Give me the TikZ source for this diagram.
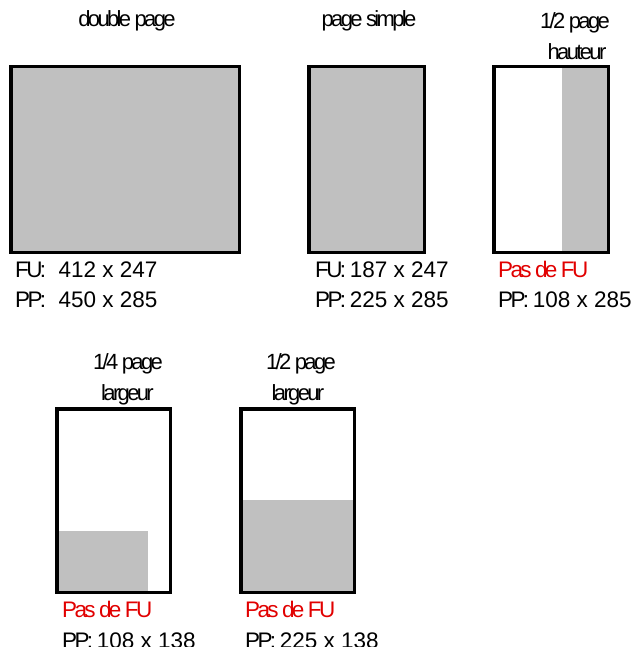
\documentclass[tikz,border=0pt]{standalone}
\usepackage{fontspec}
\setmainfont{Liberation Sans}
\newfontfamily\cmpfont[LetterSpace=-12]{Liberation Sans}
\definecolor{pagegray}{RGB}{192,192,192}
\definecolor{fured}{RGB}{225,0,0}
\newcommand{\cmp}[1]{{\cmpfont #1}}
\begin{document}
\begin{tikzpicture}[x=1pt,y=-1pt,
  title/.style={anchor=base,inner sep=0pt,font=\cmpfont\fontsize{22}{22}\selectfont},
  info/.style={anchor=base west,inner sep=0pt,font=\fontsize{22.5}{22.5}\selectfont},
  redinfo/.style={info,text=fured,font=\cmpfont\fontsize{22.5}{22.5}\selectfont},
  frame/.style={draw=black,line width=3.5pt},
  shade/.style={fill=pagegray}]
\useasboundingbox (0,0) rectangle (641,647);
% double page
\fill[shade] (10.75,66.75) rectangle (239.25,252.25);
\draw[frame] (10.75,66.75) rectangle (239.25,252.25);
\node[title] (t1) at (127,27) {double page};
\node[info] (fu1) at (15,277) {\cmp{FU:}\ \ 412 x 247};
\node[info] (pp1) at (15,307) {\cmp{PP:}\ \ 450 x 285};
% page simple
\fill[shade] (308.75,66.75) rectangle (424.25,252.25);
\draw[frame] (308.75,66.75) rectangle (424.25,252.25);
\node[title] (t2) at (369,27) {page simple};
\node[info] (fu2) at (315,277) {\cmp{FU:}\,187 x 247};
\node[info] (pp2) at (315,307) {\cmp{PP:}\,225 x 285};
% 1/2 page hauteur
\fill[shade] (562,66.75) rectangle (608.25,252.25);
\draw[frame] (493.75,66.75) rectangle (608.25,252.25);
\node[title] (t3a) at (575,29) {1/2 page};
\node[title] (t3b) at (577,60) {hauteur};
\node[redinfo] (fu3) at (498,277) {Pas de FU};
\node[info] (pp3) at (498,307) {\cmp{PP:}\,108 x 285};
% 1/4 page largeur
\fill[shade] (56.75,531) rectangle (148,592.25);
\draw[frame] (56.75,408.75) rectangle (170.25,592.25);
\node[title] (t4a) at (128,369) {1/4 page};
\node[title] (t4b) at (127.5,400) {largeur};
\node[redinfo] (fu4) at (62,617) {Pas de FU};
\node[info] (pp4) at (62,648) {\cmp{PP:}\,108 x 138};
% 1/2 page largeur
\fill[shade] (240.75,500) rectangle (354.25,592.25);
\draw[frame] (240.75,408.75) rectangle (354.25,592.25);
\node[title] (t5a) at (301,369) {1/2 page};
\node[title] (t5b) at (298,400) {largeur};
\node[redinfo] (fu5) at (245,617) {Pas de FU};
\node[info] (pp5) at (245,648) {\cmp{PP:}\,225 x 138};
\end{tikzpicture}
\end{document}
